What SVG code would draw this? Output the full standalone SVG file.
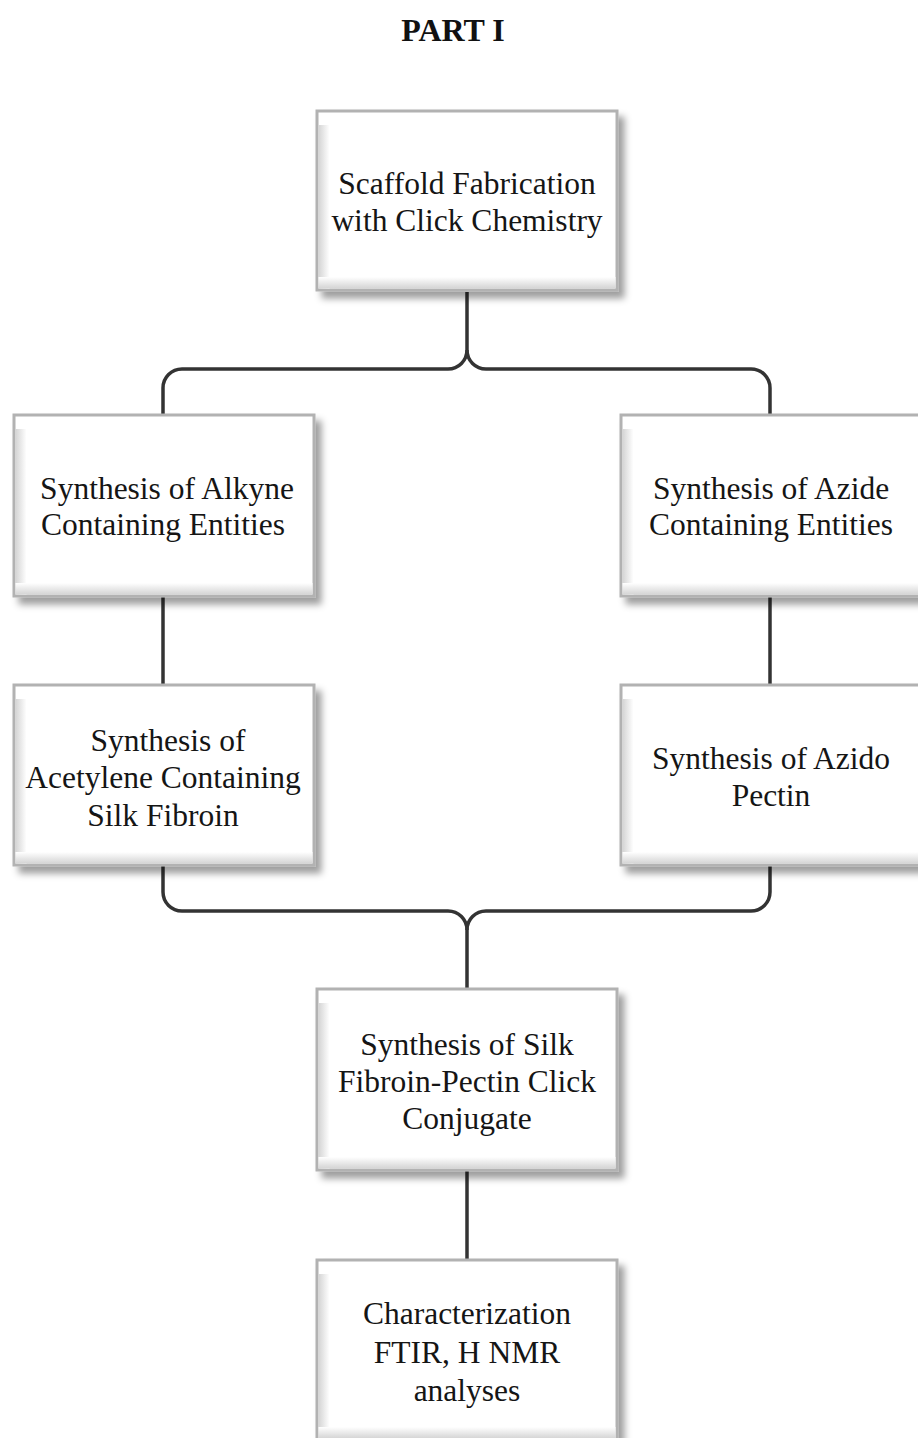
<svg xmlns="http://www.w3.org/2000/svg" width="918" height="1438" viewBox="0 0 918 1438">
<style>
.box{fill:#fff;stroke:#b2b2b2;stroke-width:3}
.bl{fill:url(#gl)}
.bb{fill:url(#gb)}
.t{font-family:"Liberation Serif","Times New Roman",serif;font-size:31.5px;fill:#151515;text-anchor:middle}
.title{font-family:"Liberation Serif","Times New Roman",serif;font-size:32px;font-weight:bold;fill:#111;text-anchor:middle}
.c{fill:none;stroke:#333;stroke-width:3.5}
</style>
<defs>
<filter id="sh" x="-10%" y="-10%" width="130%" height="130%">
<feDropShadow dx="6" dy="7" stdDeviation="3.5" flood-color="#000" flood-opacity="0.38"/>
</filter>
<linearGradient id="gl" x1="0" y1="0" x2="1" y2="0">
<stop offset="0" stop-color="#d4d4d4"/>
<stop offset="1" stop-color="#ffffff"/>
</linearGradient>
<linearGradient id="gb" x1="0" y1="0" x2="0" y2="1">
<stop offset="0" stop-color="#ffffff"/>
<stop offset="1" stop-color="#d4d4d4"/>
</linearGradient>
</defs>
<rect width="918" height="1438" fill="#fff"/>
<text class="title" x="453" y="41">PART I</text>

<g id="connectors">
<path class="c" d="M467 292 V350 A19 19 0 0 1 448 369 H182 A19 19 0 0 0 163 388 V414"/>
<path class="c" d="M467 350 A19 19 0 0 0 486 369 H751 A19 19 0 0 1 770 388 V414"/>
<path class="c" d="M163 597 V685"/>
<path class="c" d="M770 597 V685"/>
<path class="c" d="M163 866 V892 A19 19 0 0 0 182 911 H448 A19 19 0 0 1 467 930 V988"/>
<path class="c" d="M770 866 V892 A19 19 0 0 1 751 911 H486 A19 19 0 0 0 467 930"/>
<path class="c" d="M467 1171 V1259"/>
</g>

<g id="n1">
<rect class="box" x="317" y="111" width="300" height="179" filter="url(#sh)"/>
<rect class="bl" x="318.5" y="125" width="11" height="163.5"/>
<rect class="bb" x="318.5" y="277" width="297" height="11.5"/>
<text class="t" x="467" y="194">Scaffold Fabrication</text>
<text class="t" x="467" y="231">with Click Chemistry</text>
</g>

<g id="n2">
<rect class="box" x="14" y="415" width="300" height="181" filter="url(#sh)"/>
<rect class="bl" x="15.5" y="429" width="11" height="165.5"/>
<rect class="bb" x="15.5" y="583" width="297" height="11.5"/>
<text class="t" x="167" y="499">Synthesis of Alkyne</text>
<text class="t" x="163" y="535">Containing Entities</text>
</g>

<g id="n3">
<rect class="box" x="621" y="415" width="300" height="181" filter="url(#sh)"/>
<rect class="bl" x="622.5" y="429" width="11" height="165.5"/>
<rect class="bb" x="622.5" y="583" width="297" height="11.5"/>
<text class="t" x="771" y="499">Synthesis of Azide</text>
<text class="t" x="771" y="535">Containing Entities</text>
</g>

<g id="n4">
<rect class="box" x="14" y="685" width="300" height="180" filter="url(#sh)"/>
<rect class="bl" x="15.5" y="699" width="11" height="164.5"/>
<rect class="bb" x="15.5" y="852" width="297" height="11.5"/>
<text class="t" x="168" y="751">Synthesis of</text>
<text class="t" x="163" y="788">Acetylene Containing</text>
<text class="t" x="163" y="826">Silk Fibroin</text>
</g>

<g id="n5">
<rect class="box" x="621" y="685" width="300" height="180" filter="url(#sh)"/>
<rect class="bl" x="622.5" y="699" width="11" height="164.5"/>
<rect class="bb" x="622.5" y="852" width="297" height="11.5"/>
<text class="t" x="771" y="769">Synthesis of Azido</text>
<text class="t" x="771" y="806">Pectin</text>
</g>

<g id="n6">
<rect class="box" x="317" y="989" width="300" height="181" filter="url(#sh)"/>
<rect class="bl" x="318.5" y="1003" width="11" height="165.5"/>
<rect class="bb" x="318.5" y="1157" width="297" height="11.5"/>
<text class="t" x="467" y="1055">Synthesis of Silk</text>
<text class="t" x="467" y="1092">Fibroin-Pectin Click</text>
<text class="t" x="467" y="1129">Conjugate</text>
</g>

<g id="n7">
<rect class="box" x="317" y="1260" width="300" height="181" filter="url(#sh)"/>
<rect class="bl" x="318.5" y="1274" width="11" height="165.5"/>
<rect class="bb" x="318.5" y="1427" width="297" height="11.5"/>
<text class="t" x="467" y="1324">Characterization</text>
<text class="t" x="467" y="1363">FTIR, H NMR</text>
<text class="t" x="467" y="1401">analyses</text>
</g>
</svg>
